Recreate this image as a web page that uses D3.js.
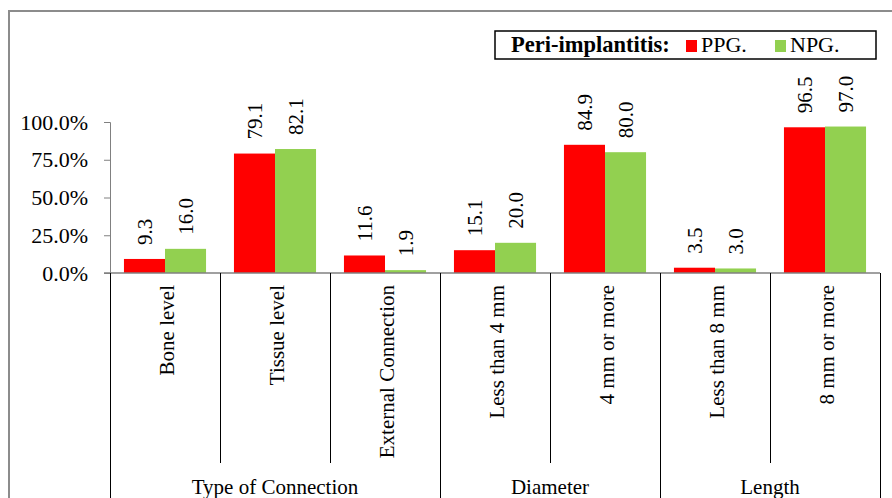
<!DOCTYPE html>
<html><head><meta charset="utf-8">
<script src="https://cdn.jsdelivr.net/npm/d3@7"></script>
<style>body{margin:0;background:#fff}svg{display:block}text{font-family:"Liberation Serif","Times New Roman",serif}</style>
</head><body><svg id="c" width="892" height="498"></svg>
<script>
const categories = ["Bone level","Tissue level","External Connection","Less than 4 mm","4 mm or more","Less than 8 mm","8 mm or more"];
const groups = [{name:"Type of Connection",start:0,end:3},{name:"Diameter",start:3,end:5},{name:"Length",start:5,end:7}];
const ppg = [9.3,79.1,11.6,15.1,84.9,3.5,96.5];
const npg = [16.0,82.1,1.9,20.0,80.0,3.0,97.0];
const yTicks = [0,25,50,75,100];
const seriesNames = ["PPG.","NPG."];
const colors = ["#FF0000","#92D050"];

const svg = d3.select("#c");
// frame
svg.append("path").attr("d","M9,498V11H892").attr("fill","none").attr("stroke","#8c8c8c").attr("stroke-width",2);

const x = d3.scaleBand().domain(categories).range([110,880]).paddingInner(0).paddingOuter(0);
const xi = d3.scaleBand().domain([0,1]).range([0,x.bandwidth()]).paddingInner(0).paddingOuter(0.34);
const y = d3.scaleLinear().domain([0,100]).range([273,122]);

// y axis
const yAxis = d3.axisLeft(y).tickValues(yTicks).tickSize(6).tickPadding(16).tickFormat(d=>d.toFixed(1)+"%");
const ya = svg.append("g").attr("transform","translate(110,0)").call(yAxis);
ya.select(".domain").attr("stroke","#808080");
ya.selectAll(".tick line").attr("stroke","#808080");
ya.selectAll("text").attr("font-size",22).attr("fill","#000").attr("font-family","Liberation Serif");

// bars
const data = categories.map((c,i)=>({c, v:[ppg[i],npg[i]]}));
const g = svg.append("g");
data.forEach(d=>{
  d.v.forEach((v,k)=>{
    g.append("rect").attr("x",x(d.c)+xi(k)).attr("y",y(v)).attr("width",xi.bandwidth()).attr("height",y(0)-y(v)).attr("fill",colors[k]);
    const cx = x(d.c)+xi(k)+xi.bandwidth()/2;
    const ty = y(v)-14;
    g.append("text").attr("transform",`translate(${cx},${ty}) rotate(-90)`).attr("dy","0.35em").attr("text-anchor","start").attr("font-size",21).text(v.toFixed(1));
  });
});

// x axis line
svg.append("line").attr("x1",104).attr("x2",880).attr("y1",273).attr("y2",273).attr("stroke","#808080").attr("stroke-width",1.5);

// separators
const bounds = d3.range(categories.length+1);
const groupBounds = new Set([0,...groups.map(gg=>gg.end)]);
bounds.forEach(i=>{
  const xx = Math.round(i<categories.length? x(categories[i]) : x.range()[1])+0.5;
  svg.append("line").attr("x1",xx).attr("x2",xx).attr("y1",273).attr("y2",groupBounds.has(i)?498:463).attr("stroke","#000").attr("stroke-width",1);
});

// category labels
categories.forEach(c=>{
  const cx = x(c)+x.bandwidth()/2;
  svg.append("text").attr("transform",`translate(${cx+2},285) rotate(-90)`).attr("dy","0.35em").attr("text-anchor","end").attr("font-size",21).text(c);
});
// group labels
groups.forEach(gg=>{
  const x0 = x(categories[gg.start]);
  const x1 = gg.end<categories.length? x(categories[gg.end]) : x.range()[1];
  svg.append("text").attr("x",(x0+x1)/2).attr("y",494).attr("text-anchor","middle").attr("font-size",21).text(gg.name);
});

// legend
const lg = svg.append("g");
lg.append("rect").attr("x",495).attr("y",31).attr("width",381).attr("height",28).attr("fill","#fff").attr("stroke","#000").attr("stroke-width",1.5);
lg.append("text").attr("x",511).attr("y",52).attr("font-size",22.5).attr("font-weight","bold").text("Peri-implantitis:");
const lx = [686,775];
seriesNames.forEach((s,k)=>{
  lg.append("rect").attr("x",lx[k]).attr("y",40).attr("width",11).attr("height",12).attr("fill",colors[k]);
  lg.append("text").attr("x",lx[k]+15).attr("y",52).attr("font-size",22).text(s);
});
</script></body></html>
